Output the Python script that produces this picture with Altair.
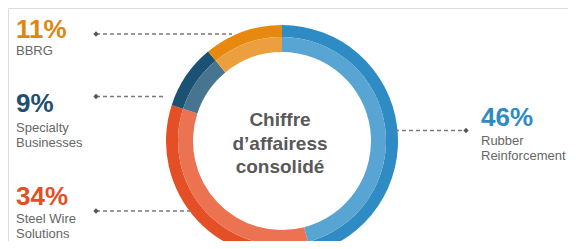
import altair as alt
import pandas as pd

# ---- data ----
categories = ["Rubber Reinforcement", "Steel Wire Solutions", "Specialty Businesses", "BBRG"]
shares = [46, 34, 9, 11]
pct_labels = ["46%", "34%", "9%", "11%"]
sub_labels = ["Rubber\nReinforcement", "Steel Wire\nSolutions", "Specialty\nBusinesses", "BBRG"]
center_title = "Chiffre\nd\u2019affairess\nconsolidé"

# ---- styles ----
outer_colors = ["#2E8BC4", "#E44F26", "#1B5173", "#E8890F"]
inner_colors = ["#58A4D3", "#EC7352", "#47758F", "#EC9F3F"]
text_colors = ["#2E8BC4", "#E44F26", "#1D4F71", "#E0860F"]

# ---- layout (pixels in plot coordinates) ----
OFF = 8
cx, cy = 282 - OFF, 141 - OFF
r_out, r_mid, r_in = 116, 104, 89
label_x = [481, 16, 16, 16]
pct_y = [126, 205, 112, 38]
sub_y = [145, 223, 132, 55]
sub_lh = [15, 14.5, 15, 15]
lead_x1 = [395, 96, 96, 96]
lead_x2 = [466, 192, 165, 232]
lead_y = [130.5, 211, 96.5, 34]
dot_x = [466, 96, 96, 96]

df = pd.DataFrame({
    "cat": categories,
    "share": shares,
    "idx": list(range(len(categories))),
    "outer": outer_colors,
    "inner": inner_colors,
})

theta = alt.Theta("share:Q", stack=True)
order = alt.Order("idx:Q")

outer_ring = alt.Chart(df).mark_arc(radius=r_out, radius2=r_mid, stroke=None).encode(
    theta=theta, order=order, color=alt.Color("outer:N", scale=None),
    x=alt.value(cx), y=alt.value(cy))
inner_ring = alt.Chart(df).mark_arc(radius=r_mid, radius2=r_in, stroke=None).encode(
    theta=theta, order=order, color=alt.Color("inner:N", scale=None),
    x=alt.value(cx), y=alt.value(cy))

lab = pd.DataFrame({
    "i": list(range(len(categories))),
    "pct": pct_labels,
    "sub": sub_labels,
    "tc": text_colors,
    "lx": [v - OFF for v in label_x],
    "py": [v - OFF for v in pct_y],
    "sy": [v - OFF for v in sub_y],
    "x1": [v - OFF for v in lead_x1],
    "x2": [v - OFF for v in lead_x2],
    "ly": [v - OFF for v in lead_y],
    "dx": [v - OFF for v in dot_x],
})

pct_text = alt.Chart(lab).mark_text(
    align="left", baseline="alphabetic", font="Liberation Sans", fontSize=26, fontWeight="bold"
).encode(x=alt.X("lx:Q", scale=None), y=alt.Y("py:Q", scale=None),
         text="pct:N", color=alt.Color("tc:N", scale=None))

sub_layers = []
for i, lh in enumerate(sub_lh):
    sub_layers.append(
        alt.Chart(lab).transform_filter(alt.datum.i == i).mark_text(
            align="left", baseline="alphabetic", font="Liberation Sans", fontSize=13,
            lineBreak="\n", lineHeight=lh, color="#666666"
        ).encode(x=alt.X("lx:Q", scale=None), y=alt.Y("sy:Q", scale=None), text="sub:N")
    )

leaders = alt.Chart(lab).mark_rule(
    color="#7a7a7a", strokeWidth=1.3, strokeDash=[4, 3]
).encode(x=alt.X("x1:Q", scale=None), x2="x2:Q", y=alt.Y("ly:Q", scale=None))

dots = alt.Chart(lab).mark_point(
    shape="diamond", filled=True, size=28, color="#555555", opacity=1
).encode(x=alt.X("dx:Q", scale=None), y=alt.Y("ly:Q", scale=None))

center = alt.Chart(pd.DataFrame({"t": [center_title]})).mark_text(
    align="center", baseline="alphabetic", font="Liberation Sans", fontSize=19,
    fontWeight="bold", lineBreak="\n", lineHeight=23.5, color="#595959"
).encode(x=alt.value(280 - OFF), y=alt.value(126 - OFF), text="t:N")

chart = alt.layer(outer_ring, inner_ring, leaders, dots, pct_text, *sub_layers, center).properties(
    width=560, height=233, autosize="none", padding=0
).configure_view(stroke=None).configure(background="white")

chart.save("out.html", embed_options={"renderer": "svg", "actions": False})
